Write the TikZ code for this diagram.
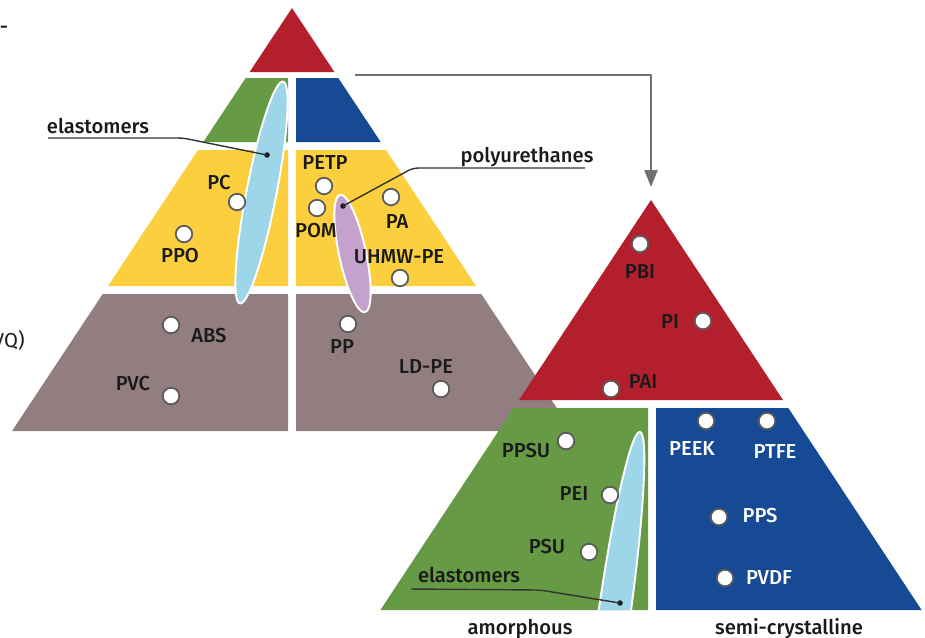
\documentclass[tikz,border=0pt]{standalone}
\usepackage{fontspec}
\setmainfont{Fira Sans}
\newfontfamily\labelfont{Fira Sans Medium}
\usepackage{xcolor}
\usetikzlibrary{arrows.meta,calc}
\definecolor{toptier}{HTML}{B41F2E}
\definecolor{amorph}{HTML}{669A45}
\definecolor{semicr}{HTML}{164A94}
\definecolor{engtier}{HTML}{FCCF3E}
\definecolor{stdtier}{HTML}{927E81}
\definecolor{elastfill}{HTML}{9DD5E9}
\definecolor{purfill}{HTML}{C4A2CD}
\definecolor{ink}{HTML}{1A1A1A}
\definecolor{leadgray}{HTML}{333333}
\definecolor{arrowgray}{HTML}{707074}
\definecolor{dotrim}{HTML}{5A5A5A}
\tikzset{
  >={Triangle[length=3.4mm,width=2.6mm]},
  lbl/.style={font=\labelfont\fontsize{11.5}{13}\selectfont, text=ink, inner sep=0pt},
  wlbl/.style={lbl, text=white},
  cut/.style={font=\fontsize{11.5}{13}\selectfont, text=ink, inner sep=0pt},
  matdot/.style={circle, fill=white, draw=dotrim, line width=1pt,
                 minimum size=3.3mm, inner sep=0pt},
  tack/.style={circle, fill=ink, minimum size=1.1mm, inner sep=0pt},
  leader/.style={leadgray, line width=0.8pt, rounded corners=3pt},
  blob/.style={draw=white, line width=1.1pt},
  flow/.style={->, arrowgray, line width=1.4pt},
}

\begin{document}
\begin{tikzpicture}[x={(0.02cm,0)}, y={(0,-0.02cm)}, line join=round]
\fill[white] (0,0) rectangle (925,637);
\useasboundingbox (0,0) rectangle (925,637);

% ===================== LEFT PYRAMID =====================
% ---- tiers ----
\fill[toptier] (292,8) -- (334.4,72) -- (249.6,72) -- cycle;
\fill[amorph]  (245.7,78) -- (288,78) -- (288,142) -- (203.3,142) -- cycle;
\fill[semicr]  (296,78) -- (338.3,78) -- (380.7,142) -- (296,142) -- cycle;
\fill[engtier] (198,150) -- (288,150) -- (288,286) -- (108,286) -- cycle;
\fill[engtier] (296,150) -- (386,150) -- (476,286) -- (296,286) -- cycle;
\fill[stdtier] (102.7,294) -- (288,294) -- (288,431) -- (12,431) -- cycle;
\fill[stdtier] (296,294) -- (481.3,294) -- (572,431) -- (296,431) -- cycle;

% ---- groups ----
\filldraw[blob, fill=elastfill] (261.5,192.5) ellipse [x radius=113, y radius=15, rotate=79];
\filldraw[blob, fill=purfill] (352.5,253.5) ellipse [x radius=60, y radius=13.5, rotate=102];

% ---- materials ----
\node[matdot] (pc)   at (237,202) {};
\node[lbl]    (pcL)  at (219,183) {PC};
\node[matdot] (ppo)  at (184,234) {};
\node[lbl]    (ppoL) at (180,256) {PPO};
\node[matdot] (petp) at (324,186) {};
\node[lbl]    (petpL) at (325,163) {PETP};
\node[matdot] (pom)  at (317,208) {};
\node[lbl]    (pomL) at (316,231) {POM};
\node[matdot] (pa)   at (391,197) {};
\node[lbl]    (paL)  at (397,222) {PA};
\node[lbl]    (uhmwL) at (399,257) {UHMW-PE};
\node[matdot] (uhmw) at (400,278) {};
\node[matdot] (abs)  at (171,325) {};
\node[lbl]    (absL) at (209,336) {ABS};
\node[lbl]    (pvcL) at (133,384) {PVC};
\node[matdot] (pvc)  at (171,396) {};
\node[matdot] (pp)   at (348,324) {};
\node[lbl]    (ppL)  at (342,347) {PP};
\node[lbl]    (ldpeL) at (426,367) {LD-PE};
\node[matdot] (ldpe) at (441,389) {};

% ---- leaders ----
\node[lbl] (elLL) at (98,126) {elastomers};
\coordinate (elLa) at (48,138);
\coordinate (elLb) at (183,138);
\node[tack] (elLt) at (267,155) {};
\draw[leader] (elLa) -- (elLb) -- (elLt.center);

\node[lbl, anchor=base] (purL) at (527,162) {polyurethanes};
\coordinate (purA) at (585,168);
\coordinate (purB) at (413,168);
\node[tack] (purT) at (343,206) {};
\draw[leader] (purA) -- (purB) -- (purT.center);

% ---- cut-off text at the left edge ----
\node[lbl, anchor=base east] (dashL) at (8.5,33) {-};
\node[cut, anchor=base east] (vqL) at (25,347) {VQ)};

% ---- zoom arrow ----
\coordinate (zoomA) at (355,75);
\coordinate (zoomB) at (651,187);
\draw[flow] (zoomA) -| (zoomB);

% ===================== RIGHT PYRAMID =====================
\fill[toptier] (651,200) -- (783,400) -- (519,400) -- cycle;
\fill[amorph]  (513.7,408) -- (648,408) -- (648,610) -- (380.4,610) -- cycle;
\fill[semicr]  (656,408) -- (788.3,408) -- (921.6,610) -- (656,610) -- cycle;
\begin{scope}
  \clip (513.7,408) -- (648,408) -- (648,610) -- (380.4,610) -- cycle;
  \filldraw[blob, fill=elastfill] (613.5,620) ellipse [x radius=190, y radius=16, rotate=82];
\end{scope}

% ---- high performance ----
\node[matdot] (pbi)  at (640,244) {};
\node[lbl]    (pbiL) at (640,272) {PBI};
\node[lbl]    (piL)  at (670,322) {PI};
\node[matdot] (pi)   at (703,321) {};
\node[matdot] (pai)  at (611,389) {};
\node[lbl]    (paiL) at (643,382) {PAI};

% ---- amorphous ----
\node[lbl]    (ppsuL) at (526,451) {PPSU};
\node[matdot] (ppsu) at (566,441) {};
\node[lbl]    (peiL) at (574,494) {PEI};
\node[matdot] (pei)  at (610,495) {};
\node[lbl]    (psuL) at (547,547) {PSU};
\node[matdot] (psu)  at (589,552) {};

\node[lbl] (elRL) at (469,575) {elastomers};
\coordinate (elRa) at (411,589);
\coordinate (elRb) at (540,590);
\node[tack] (elRt) at (620,603) {};
\draw[leader] (elRa) -- (elRb) -- (elRt.center);

% ---- semi-crystalline ----
\node[matdot] (peek) at (706,421) {};
\node[wlbl]   (peekL) at (692,449) {PEEK};
\node[matdot] (ptfe) at (767,421) {};
\node[wlbl]   (ptfeL) at (775,452) {PTFE};
\node[matdot] (pps)  at (719,517) {};
\node[wlbl]   (ppsL) at (760,516) {PPS};
\node[matdot] (pvdf) at (725,578) {};
\node[wlbl]   (pvdfL) at (769,578) {PVDF};

% ---- column captions ----
\node[lbl, anchor=base] (amoL) at (520,634) {amorphous};
\node[lbl, anchor=base] (semL) at (789,634) {semi-crystalline};

\end{tikzpicture}
\end{document}
